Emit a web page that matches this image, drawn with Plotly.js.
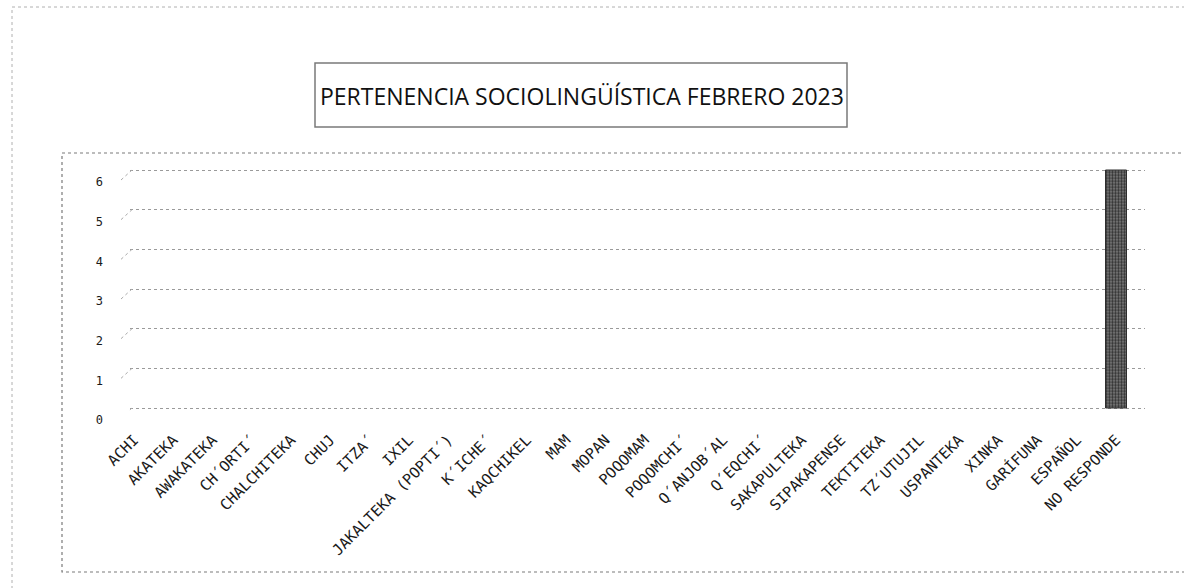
<!DOCTYPE html>
<html>
<head>
<meta charset="utf-8">
<script src="https://cdn.plot.ly/plotly-3.0.1.min.js"></script>
<style>
  html, body { margin: 0; padding: 0; background: #fff; }
  #chart { width: 1184px; height: 588px; }
</style>
</head>
<body>
<div id="chart"></div>
<script>
// ---- data ----
const categories = [
  "ACHI", "AKATEKA", "AWAKATEKA", "CH´ORTI´", "CHALCHITEKA", "CHUJ", "ITZA´", "IXIL",
  "JAKALTEKA (POPTI´)", "K´ICHE´", "KAQCHIKEL", "MAM", "MOPAN", "POQOMAM", "POQOMCHI´",
  "Q´ANJOB´AL", "Q´EQCHI´", "SAKAPULTEKA", "SIPAKAPENSE", "TEKTITEKA", "TZ´UTUJIL",
  "USPANTEKA", "XINKA", "GARÍFUNA", "ESPAÑOL", "NO RESPONDE"
];
const values = [0,0,0,0,0,0,0,0,0,0,0,0,0,0,0,0,0,0,0,0,0,0,0,0,0,6];
const yTicks = [0,1,2,3,4,5,6];
const titleText = "PERTENENCIA SOCIOLINGÜÍSTICA FEBRERO 2023";

// ---- layout helpers (pixel -> paper) ----
const W = 1184, H = 588;
const px = v => v / W;
const py = v => 1 - v / H;

const n = categories.length;
const plotLeft = 130, plotRight = 1145;
const firstTick = 134, lastTick = 1116;
const unit = (lastTick - firstTick) / (n - 1);
const r0 = -(firstTick - plotLeft) / unit;
const r1 = r0 + (plotRight - plotLeft) / unit;

// y: value 0 at 408px, value 6 at 170px
const yPad = 0.06;
const yUnit = (408 - 170) / 6;
const yTopPx = 170 - yPad * yUnit, yBotPx = 408 + yPad * yUnit;

const trace = {
  type: "bar",
  x: categories,
  y: values,
  width: 21 / unit,
  marker: {
    color: "#6a6a6a",
    line: { color: "#2e2e2e", width: values.map(v => (v > 0 ? 1 : 0)) },
    pattern: { shape: ".", fgcolor: "#2f2f2f", bgcolor: "#808080", size: 3, solidity: 0.5 }
  },
  hoverinfo: "x+y"
};

const shapes = [
  // outer page border
  { type: "rect", xref: "paper", yref: "paper", x0: px(12), x1: px(1200), y0: py(7), y1: py(610),
    line: { color: "#b0b0b0", width: 1, dash: "dot" } },
  // chart area border
  { type: "rect", xref: "paper", yref: "paper", x0: px(62), x1: px(1200), y0: py(153), y1: py(572),
    line: { color: "#7a7a7a", width: 1.2, dash: "dot" } },
  // title box
  { type: "rect", xref: "paper", yref: "paper", x0: px(315), x1: px(847), y0: py(63), y1: py(127),
    line: { color: "#7a7a7a", width: 1.5 } }
];
// perspective stubs at each gridline
yTicks.forEach(t => {
  shapes.push({
    type: "line", xref: "paper", yref: "y", ysizemode: "pixel", yanchor: t,
    x0: px(121), x1: px(132), y0: -10, y1: 0,
    line: { color: "#aaaaaa", width: 1, dash: "dot" }
  });
});

const layout = {
  width: W, height: H,
  margin: { l: 0, r: 0, t: 0, b: 0 },
  paper_bgcolor: "#ffffff",
  plot_bgcolor: "rgba(0,0,0,0)",
  showlegend: false,
  bargap: 0,
  xaxis: {
    domain: [px(plotLeft), px(plotRight)],
    type: "category",
    range: [r0, r1],
    tickangle: -45,
    ticks: "",
    showgrid: false,
    showline: false,
    zeroline: false,
    ticklabelstandoff: 17,
    tickfont: { family: "DejaVu Sans Mono, Liberation Mono, monospace", size: 15, color: "#1a1a1a" },
    automargin: false
  },
  yaxis: {
    domain: [1 - yBotPx / H, 1 - yTopPx / H],
    range: [-yPad, 6 + yPad],
    tickvals: yTicks,
    ticktext: yTicks.map(String),
    ticks: "",
    showline: false,
    zeroline: false,
    showgrid: true,
    gridcolor: "#9a9a9a",
    griddash: "dot",
    gridwidth: 1,
    ticklabelstandoff: 26,
    ticklabelshift: 12,
    tickfont: { family: "DejaVu Sans Mono, Liberation Mono, monospace", size: 12, color: "#1a1a1a" },
    automargin: false
  },
  shapes: shapes,
  annotations: [{
    xref: "paper", yref: "paper", x: px(582), y: py(96),
    xanchor: "center", yanchor: "middle", showarrow: false,
    text: titleText,
    font: { family: "Open Sans, Lato, sans-serif", size: 23, color: "#111" }
  }]
};

Plotly.newPlot("chart", [trace], layout, { displayModeBar: false, staticPlot: true });
</script>
</body>
</html>
